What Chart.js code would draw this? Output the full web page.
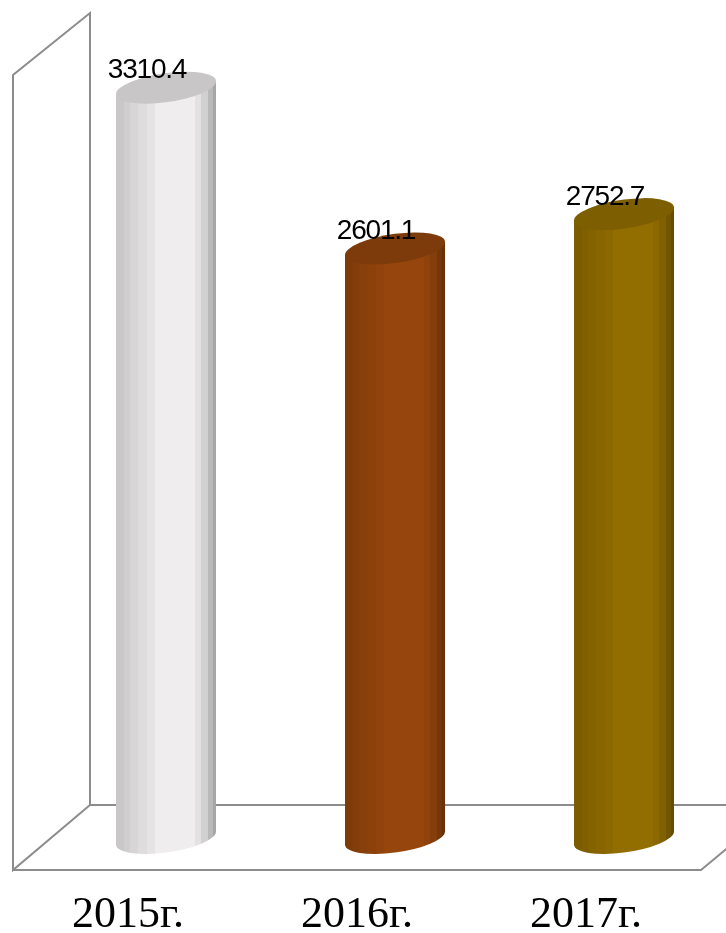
<!DOCTYPE html>
<html>
<head>
<meta charset="utf-8">
<title>Chart</title>
<script src="https://cdn.jsdelivr.net/npm/chart.js@4"></script>
<style>
    html, body { margin: 0; padding: 0; background: #fff; overflow: hidden; }
    #wrap { width: 726px; height: 933px; overflow: hidden; }
    canvas { display: block; }
</style>
</head>
<body>
<div id="wrap"><canvas id="cylChart" width="760" height="933"></canvas></div>
<script>
const categories = ['2015г.', '2016г.', '2017г.'];
const values = [3310.4, 2601.1, 2752.7];
const valueLabels = ['3310.4', '2601.1', '2752.7'];

// colours of the cylinders: lit side, top cap
const bodyColors = [[239, 237, 237], [150, 70, 12], [146, 109, 0]];
const capColors = ['#c8c6c7', '#7d3b0b', '#7d5e00'];

// stepped shading across the cylinder, left to right
const bandEdges = [0, 0.08, 0.14, 0.22, 0.31, 0.39, 0.79, 0.85, 0.92, 0.97, 1];
const bandShades = [0.84, 0.87, 0.9, 0.93, 0.96, 1, 0.95, 0.88, 0.78, 0.7];

const TILT = 0.13;
const CAP_RY = 14.6;

function bodyGradient(ctx, left, width, rgb) {
    const g = ctx.createLinearGradient(left, 0, left + width, 0);
    bandShades.forEach((s, i) => {
        const c = `rgb(${rgb.map(v => Math.round(v * s)).join(',')})`;
        g.addColorStop(bandEdges[i], c);
        g.addColorStop(bandEdges[i + 1], c);
    });
    return g;
}

function capPath(ctx, cx, cy, rx) {
    ctx.save();
    ctx.transform(1, -TILT, 0, 1, cx, cy);
    ctx.beginPath();
    ctx.ellipse(0, 0, rx, CAP_RY, 0, 0, Math.PI * 2);
    ctx.restore();
}

function sidePath(ctx, b) {
    const r = b.width / 2, dy = r * TILT;
    ctx.moveTo(b.x - r, b.y + dy);
    ctx.lineTo(b.x + r, b.y - dy);
    ctx.lineTo(b.x + r, b.base - dy);
    ctx.lineTo(b.x - r, b.base + dy);
    ctx.closePath();
}

const frame = {
    id: 'frame',
    beforeDatasetsDraw(chart) {
        const { ctx, chartArea: a } = chart;
        const backX = a.left + 38.5, frontX = a.left - 38.5;
        const backY = a.bottom - 33, frontY = a.bottom + 32;
        ctx.save();
        ctx.strokeStyle = '#8c8c8c';
        ctx.lineWidth = 2;
        ctx.beginPath();
        ctx.moveTo(a.right, backY);
        ctx.lineTo(backX, backY);
        ctx.lineTo(backX, a.top);
        ctx.lineTo(frontX, a.top + 62);
        ctx.lineTo(frontX, frontY);
        ctx.lineTo(backX, backY);
        ctx.moveTo(frontX, frontY);
        ctx.lineTo(a.right - 37.5, frontY);
        ctx.lineTo(a.right - 5, frontY - 27);
        ctx.stroke();
        ctx.restore();
    }
};

const cylinders = {
    id: 'cylinders',
    beforeDatasetDraw(chart) {
        // the tilted ends stick out past the square bar, so fill the sides out to them
        const { ctx } = chart;
        const bars = chart.getDatasetMeta(0).data;
        bars.forEach((b, i) => {
            ctx.beginPath();
            sidePath(ctx, b);
            ctx.fillStyle = bodyGradient(ctx, b.x - b.width / 2, b.width, bodyColors[i]);
            ctx.fill();
        });
        // trim the square bar corners so the tilted caps sit on the body
        ctx.save();
        ctx.beginPath();
        bars.forEach(b => sidePath(ctx, b));
        ctx.clip();
    },
    afterDatasetDraw(chart) {
        const { ctx } = chart;
        ctx.restore();
        chart.getDatasetMeta(0).data.forEach((b, i) => {
            const r = b.width / 2;
            capPath(ctx, b.x, b.base, r);
            ctx.fillStyle = bodyGradient(ctx, b.x - r, b.width, bodyColors[i]);
            ctx.fill();
            capPath(ctx, b.x, b.y, r);
            ctx.fillStyle = capColors[i];
            ctx.fill();
            ctx.fillStyle = '#000';
            ctx.font = '28px "Liberation Sans"';
            ctx.letterSpacing = '-1.2px';
            ctx.textAlign = 'center';
            ctx.textBaseline = 'middle';
            ctx.fillText(valueLabels[i], b.x - 19, b.y - 17);
            ctx.letterSpacing = '0px';
        });
    }
};

new Chart(document.getElementById('cylChart'), {
    type: 'bar',
    data: {
        labels: categories,
        datasets: [{
            data: values,
            barThickness: 100,
            borderWidth: 0,
            backgroundColor(c) {
                const r = c.chart.chartArea;
                if (!r) return '#ccc';
                const slot = (r.right - r.left) / categories.length;
                const left = r.left + slot * (c.dataIndex + 0.5) - 50;
                return bodyGradient(c.chart.ctx, left, 100, bodyColors[c.dataIndex]);
            }
        }]
    },
    options: {
        responsive: false,
        animation: false,
        layout: { padding: { left: 51.5, right: 21.5, top: 13, bottom: 0 } },
        plugins: { legend: { display: false }, tooltip: { enabled: false } },
        scales: {
            x: {
                grid: { display: false, drawTicks: false },
                border: { display: false },
                afterFit(s) { s.height = 95; },
                ticks: {
                    color: '#000',
                    font: { family: '"Liberation Serif"', size: 44 },
                    padding: 51,
                    labelOffset: -38,
                    maxRotation: 0,
                    autoSkip: false
                }
            },
            y: {
                display: false,
                min: 0,
                max: 3640
            }
        }
    },
    plugins: [frame, cylinders]
});
</script>
</body>
</html>
